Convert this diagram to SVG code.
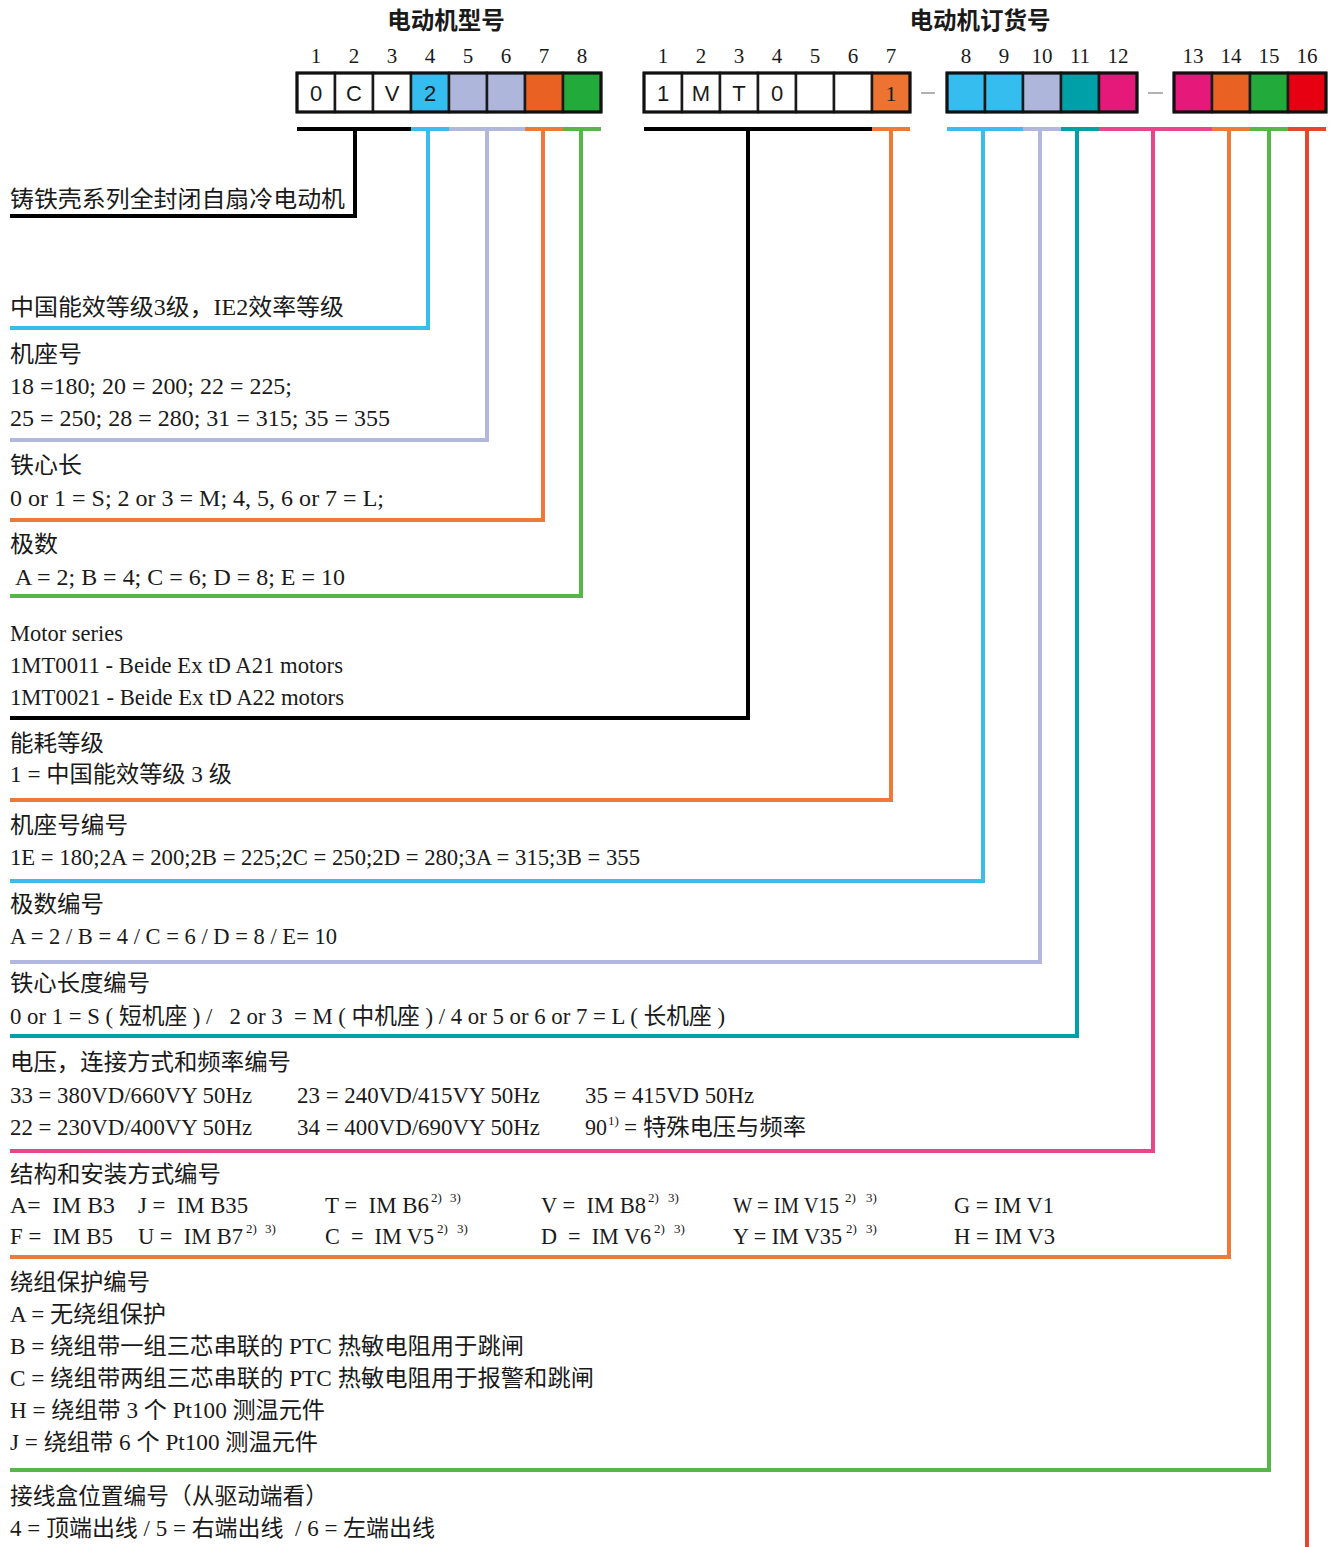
<svg xmlns="http://www.w3.org/2000/svg" width="1334" height="1547" viewBox="0 0 1334 1547">
<style>
text{font-family:"Liberation Serif","Noto Sans CJK SC",serif;font-size:23px;fill:#1a1a1a;white-space:pre}
.t{font-family:"Noto Sans CJK SC","Liberation Sans",sans-serif;font-weight:bold;font-size:23.5px;text-anchor:middle}
.n{font-size:21px;text-anchor:middle}
.c{font-family:"Liberation Sans","Noto Sans CJK SC",sans-serif;font-size:22px;text-anchor:middle}
.cs{font-size:22px;text-anchor:middle}
.sup{font-size:13px}
.cell{stroke:#1a1a1a;stroke-width:2.5}
.ln{fill:none;stroke-width:4;stroke-linejoin:miter}
.dash{stroke:#999;stroke-width:1.5}
</style>
<rect width="1334" height="1547" fill="#fff"/>

<g id="title-model"><text class="t" x="446" y="29">电动机型号</text></g>
<g id="title-order"><text class="t" x="980" y="29">电动机订货号</text></g>

<g id="model-code">
<text class="n" x="316" y="63">1</text><text class="n" x="354" y="63">2</text><text class="n" x="392" y="63">3</text><text class="n" x="430" y="63">4</text><text class="n" x="468" y="63">5</text><text class="n" x="506" y="63">6</text><text class="n" x="544" y="63">7</text><text class="n" x="582" y="63">8</text>
<rect class="cell" x="297" y="73" width="38" height="39" fill="#fff"/>
<rect class="cell" x="335" y="73" width="38" height="39" fill="#fff"/>
<rect class="cell" x="373" y="73" width="38" height="39" fill="#fff"/>
<rect class="cell" x="411" y="73" width="38" height="39" fill="#35BDEF"/>
<rect class="cell" x="449" y="73" width="38" height="39" fill="#AFB6DC"/>
<rect class="cell" x="487" y="73" width="38" height="39" fill="#AFB6DC"/>
<rect class="cell" x="525" y="73" width="38" height="39" fill="#EA6223"/>
<rect class="cell" x="563" y="73" width="38" height="39" fill="#22AA3A"/>
<rect x="297" y="73" width="304" height="39" fill="none" stroke="#111" stroke-width="3"/>
<text class="c" x="316" y="101">0</text><text class="c" x="354" y="101">C</text><text class="c" x="392" y="101">V</text><text class="c" x="430" y="101">2</text>
</g>

<g id="order-code">
<text class="n" x="663" y="63">1</text><text class="n" x="701" y="63">2</text><text class="n" x="739" y="63">3</text><text class="n" x="777" y="63">4</text><text class="n" x="815" y="63">5</text><text class="n" x="853" y="63">6</text><text class="n" x="891" y="63">7</text>
<text class="n" x="966" y="63">8</text><text class="n" x="1004" y="63">9</text><text class="n" x="1042" y="63">10</text><text class="n" x="1080" y="63">11</text><text class="n" x="1118" y="63">12</text>
<text class="n" x="1193" y="63">13</text><text class="n" x="1231" y="63">14</text><text class="n" x="1269" y="63">15</text><text class="n" x="1307" y="63">16</text>
<rect class="cell" x="644" y="73" width="38" height="39" fill="#fff"/>
<rect class="cell" x="682" y="73" width="38" height="39" fill="#fff"/>
<rect class="cell" x="720" y="73" width="38" height="39" fill="#fff"/>
<rect class="cell" x="758" y="73" width="38" height="39" fill="#fff"/>
<rect class="cell" x="796" y="73" width="38" height="39" fill="#fff"/>
<rect class="cell" x="834" y="73" width="38" height="39" fill="#fff"/>
<rect class="cell" x="872" y="73" width="38" height="39" fill="#EC7331"/>
<rect x="644" y="73" width="266" height="39" fill="none" stroke="#111" stroke-width="3"/>
<text class="c" x="663" y="101">1</text><text class="c" x="701" y="101">M</text><text class="c" x="739" y="101">T</text><text class="c" x="777" y="101">0</text>
<text class="cs" x="891" y="101">1</text>
<line class="dash" x1="921" y1="93" x2="935" y2="93"/>
<rect class="cell" x="947" y="73" width="38" height="39" fill="#35BDEF"/>
<rect class="cell" x="985" y="73" width="38" height="39" fill="#35BDEF"/>
<rect class="cell" x="1023" y="73" width="38" height="39" fill="#AFB6DC"/>
<rect class="cell" x="1061" y="73" width="38" height="39" fill="#00A0A8"/>
<rect class="cell" x="1099" y="73" width="38" height="39" fill="#E5197A"/>
<rect x="947" y="73" width="190" height="39" fill="none" stroke="#111" stroke-width="3"/>
<line class="dash" x1="1148" y1="93" x2="1163" y2="93"/>
<rect class="cell" x="1174" y="73" width="38" height="39" fill="#E5197A"/>
<rect class="cell" x="1212" y="73" width="38" height="39" fill="#EA6223"/>
<rect class="cell" x="1250" y="73" width="38" height="39" fill="#22AA3A"/>
<rect class="cell" x="1288" y="73" width="38" height="39" fill="#E60012"/>
<rect x="1174" y="73" width="152" height="39" fill="none" stroke="#111" stroke-width="3"/>
</g>

<g id="connectors">
<line class="ln" stroke="#000" x1="297" y1="129" x2="411" y2="129"/>
<line class="ln" stroke="#3BBDEB" x1="411" y1="129" x2="449" y2="129"/>
<line class="ln" stroke="#B2B8DD" x1="449" y1="129" x2="525" y2="129"/>
<line class="ln" stroke="#EE7A3A" x1="525" y1="129" x2="563" y2="129"/>
<line class="ln" stroke="#58B54A" x1="563" y1="129" x2="601" y2="129"/>
<line class="ln" stroke="#000" x1="644" y1="129" x2="872" y2="129"/>
<line class="ln" stroke="#EE7A3A" x1="872" y1="129" x2="910" y2="129"/>
<line class="ln" stroke="#3BBDEB" x1="947" y1="129" x2="1023" y2="129"/>
<line class="ln" stroke="#B2B8DD" x1="1023" y1="129" x2="1061" y2="129"/>
<line class="ln" stroke="#00A0A8" x1="1061" y1="129" x2="1099" y2="129"/>
<line class="ln" stroke="#E8458A" x1="1099" y1="129" x2="1212" y2="129"/>
<line class="ln" stroke="#EE7A3A" x1="1212" y1="129" x2="1250" y2="129"/>
<line class="ln" stroke="#58B54A" x1="1250" y1="129" x2="1288" y2="129"/>
<line class="ln" stroke="#E84530" x1="1288" y1="129" x2="1326" y2="129"/>

<polyline class="ln" stroke="#000" stroke-width="4.5" points="355,130 355,216 10,216"/>
<polyline class="ln" stroke="#3BBDEB" points="428,130 428,328 10,328"/>
<polyline class="ln" stroke="#B2B8DD" points="487,130 487,440 10,440"/>
<polyline class="ln" stroke="#EE7A3A" points="543,130 543,520 10,520"/>
<polyline class="ln" stroke="#58B54A" points="581,130 581,596 10,596"/>
<polyline class="ln" stroke="#000" stroke-width="4.5" points="748,130 748,718 10,718"/>
<polyline class="ln" stroke="#EE7A3A" points="891,130 891,800 10,800"/>
<polyline class="ln" stroke="#3BBDEB" points="983,130 983,881 10,881"/>
<polyline class="ln" stroke="#B2B8DD" points="1040,130 1040,962 10,962"/>
<polyline class="ln" stroke="#00A0A8" points="1077,130 1077,1036 10,1036"/>
<polyline class="ln" stroke="#E8458A" points="1153,130 1153,1151 10,1151"/>
<polyline class="ln" stroke="#EE7A3A" points="1229,130 1229,1257 10,1257"/>
<polyline class="ln" stroke="#58B54A" points="1269,130 1269,1470 10,1470"/>
<line class="ln" stroke="#E84530" x1="1307" y1="130" x2="1307" y2="1547"/>
</g>

<g id="desc-series"><text x="10" y="207" textLength="335" lengthAdjust="spacingAndGlyphs">铸铁壳系列全封闭自扇冷电动机</text></g>
<g id="desc-efficiency"><text x="10" y="315" textLength="334" lengthAdjust="spacingAndGlyphs">中国能效等级3级，IE2效率等级</text></g>
<g id="desc-frame">
<text x="10" y="362" textLength="72" lengthAdjust="spacingAndGlyphs">机座号</text>
<text x="10" y="394" textLength="282" lengthAdjust="spacingAndGlyphs">18 =180; 20 = 200; 22 = 225;</text>
<text x="10" y="426" textLength="380" lengthAdjust="spacingAndGlyphs">25 = 250; 28 = 280; 31 = 315; 35 = 355</text>
</g>
<g id="desc-core">
<text x="10" y="473" textLength="72" lengthAdjust="spacingAndGlyphs">铁心长</text>
<text x="10" y="506" textLength="374" lengthAdjust="spacingAndGlyphs">0 or 1 = S; 2 or 3 = M; 4, 5, 6 or 7 = L;</text>
</g>
<g id="desc-poles">
<text x="10" y="552" textLength="48" lengthAdjust="spacingAndGlyphs">极数</text>
<text x="15" y="585" textLength="330" lengthAdjust="spacingAndGlyphs">A = 2; B = 4; C = 6; D = 8; E = 10</text>
</g>
<g id="desc-motor-series">
<text x="10" y="641" textLength="113" lengthAdjust="spacingAndGlyphs">Motor series</text>
<text x="10" y="673" textLength="333" lengthAdjust="spacingAndGlyphs">1MT0011 - Beide Ex tD A21 motors</text>
<text x="10" y="705" textLength="334" lengthAdjust="spacingAndGlyphs">1MT0021 - Beide Ex tD A22 motors</text>
</g>
<g id="desc-energy">
<text x="10" y="751" textLength="94" lengthAdjust="spacingAndGlyphs">能耗等级</text>
<text x="10" y="782" textLength="222" lengthAdjust="spacingAndGlyphs">1 = 中国能效等级 3 级</text>
</g>
<g id="desc-frame-code">
<text x="10" y="833" textLength="118" lengthAdjust="spacingAndGlyphs">机座号编号</text>
<text x="10" y="865" textLength="630" lengthAdjust="spacingAndGlyphs">1E = 180;2A = 200;2B = 225;2C = 250;2D = 280;3A = 315;3B = 355</text>
</g>
<g id="desc-pole-code">
<text x="10" y="912" textLength="94" lengthAdjust="spacingAndGlyphs">极数编号</text>
<text x="10" y="944" textLength="327" lengthAdjust="spacingAndGlyphs">A = 2 / B = 4 / C = 6 / D = 8 / E= 10</text>
</g>
<g id="desc-core-code">
<text x="10" y="991" textLength="140" lengthAdjust="spacingAndGlyphs">铁心长度编号</text>
<text x="10" y="1024" textLength="715" lengthAdjust="spacingAndGlyphs">0 or 1 = S ( 短机座 ) /   2 or 3  = M ( 中机座 ) / 4 or 5 or 6 or 7 = L ( 长机座 )</text>
</g>
<g id="desc-voltage">
<text x="10" y="1070" textLength="281" lengthAdjust="spacingAndGlyphs">电压，连接方式和频率编号</text>
<text x="10" y="1103" textLength="242" lengthAdjust="spacingAndGlyphs">33 = 380VD/660VY 50Hz</text>
<text x="297" y="1103" textLength="243" lengthAdjust="spacingAndGlyphs">23 = 240VD/415VY 50Hz</text>
<text x="585" y="1103" textLength="169" lengthAdjust="spacingAndGlyphs">35 = 415VD 50Hz</text>
<text x="10" y="1135" textLength="242" lengthAdjust="spacingAndGlyphs">22 = 230VD/400VY 50Hz</text>
<text x="297" y="1135" textLength="243" lengthAdjust="spacingAndGlyphs">34 = 400VD/690VY 50Hz</text>
<text x="585" y="1135" textLength="22" lengthAdjust="spacingAndGlyphs">90</text><text class="sup" x="608" y="1125">1)</text>
<text x="624" y="1135" textLength="182" lengthAdjust="spacingAndGlyphs">= 特殊电压与频率</text>
</g>
<g id="desc-mounting">
<text x="10" y="1182" textLength="211" lengthAdjust="spacingAndGlyphs">结构和安装方式编号</text>
<text x="10" y="1213" textLength="105" lengthAdjust="spacingAndGlyphs">A=  IM B3</text>
<text x="138" y="1213" textLength="110" lengthAdjust="spacingAndGlyphs">J =  IM B35</text>
<text x="325" y="1213" textLength="104" lengthAdjust="spacingAndGlyphs">T =  IM B6</text><text class="sup" x="431" y="1202">2)</text><text class="sup" x="450" y="1202">3)</text>
<text x="541" y="1213" textLength="105" lengthAdjust="spacingAndGlyphs">V =  IM B8</text><text class="sup" x="648" y="1202">2)</text><text class="sup" x="668" y="1202">3)</text>
<text x="733" y="1213" font-size="20" textLength="106" lengthAdjust="spacingAndGlyphs">W = IM V15</text><text class="sup" x="845" y="1202">2)</text><text class="sup" x="866" y="1202">3)</text>
<text x="954" y="1213" textLength="100" lengthAdjust="spacingAndGlyphs">G = IM V1</text>
<text x="10" y="1244" textLength="103" lengthAdjust="spacingAndGlyphs">F =  IM B5</text>
<text x="138" y="1244" textLength="105" lengthAdjust="spacingAndGlyphs">U =  IM B7</text><text class="sup" x="246" y="1233">2)</text><text class="sup" x="265" y="1233">3)</text>
<text x="325" y="1244" textLength="109" lengthAdjust="spacingAndGlyphs">C  =  IM V5</text><text class="sup" x="437" y="1233">2)</text><text class="sup" x="457" y="1233">3)</text>
<text x="541" y="1244" textLength="110" lengthAdjust="spacingAndGlyphs">D  =  IM V6</text><text class="sup" x="654" y="1233">2)</text><text class="sup" x="674" y="1233">3)</text>
<text x="733" y="1244" textLength="109" lengthAdjust="spacingAndGlyphs">Y = IM V35</text><text class="sup" x="846" y="1233">2)</text><text class="sup" x="866" y="1233">3)</text>
<text x="954" y="1244" textLength="101" lengthAdjust="spacingAndGlyphs">H = IM V3</text>
</g>
<g id="desc-winding">
<text x="10" y="1290" textLength="140" lengthAdjust="spacingAndGlyphs">绕组保护编号</text>
<text x="10" y="1322" textLength="156" lengthAdjust="spacingAndGlyphs">A = 无绕组保护</text>
<text x="10" y="1354" textLength="514" lengthAdjust="spacingAndGlyphs">B = 绕组带一组三芯串联的 PTC 热敏电阻用于跳闸</text>
<text x="10" y="1386" textLength="584" lengthAdjust="spacingAndGlyphs">C = 绕组带两组三芯串联的 PTC 热敏电阻用于报警和跳闸</text>
<text x="10" y="1418" textLength="315" lengthAdjust="spacingAndGlyphs">H = 绕组带 3 个 Pt100 测温元件</text>
<text x="10" y="1450" textLength="308" lengthAdjust="spacingAndGlyphs">J = 绕组带 6 个 Pt100 测温元件</text>
</g>
<g id="desc-terminal-box">
<text x="10" y="1504" textLength="318" lengthAdjust="spacingAndGlyphs">接线盒位置编号（从驱动端看）</text>
<text x="10" y="1536" textLength="425" lengthAdjust="spacingAndGlyphs">4 = 顶端出线 / 5 = 右端出线  / 6 = 左端出线</text>
</g>
</svg>
